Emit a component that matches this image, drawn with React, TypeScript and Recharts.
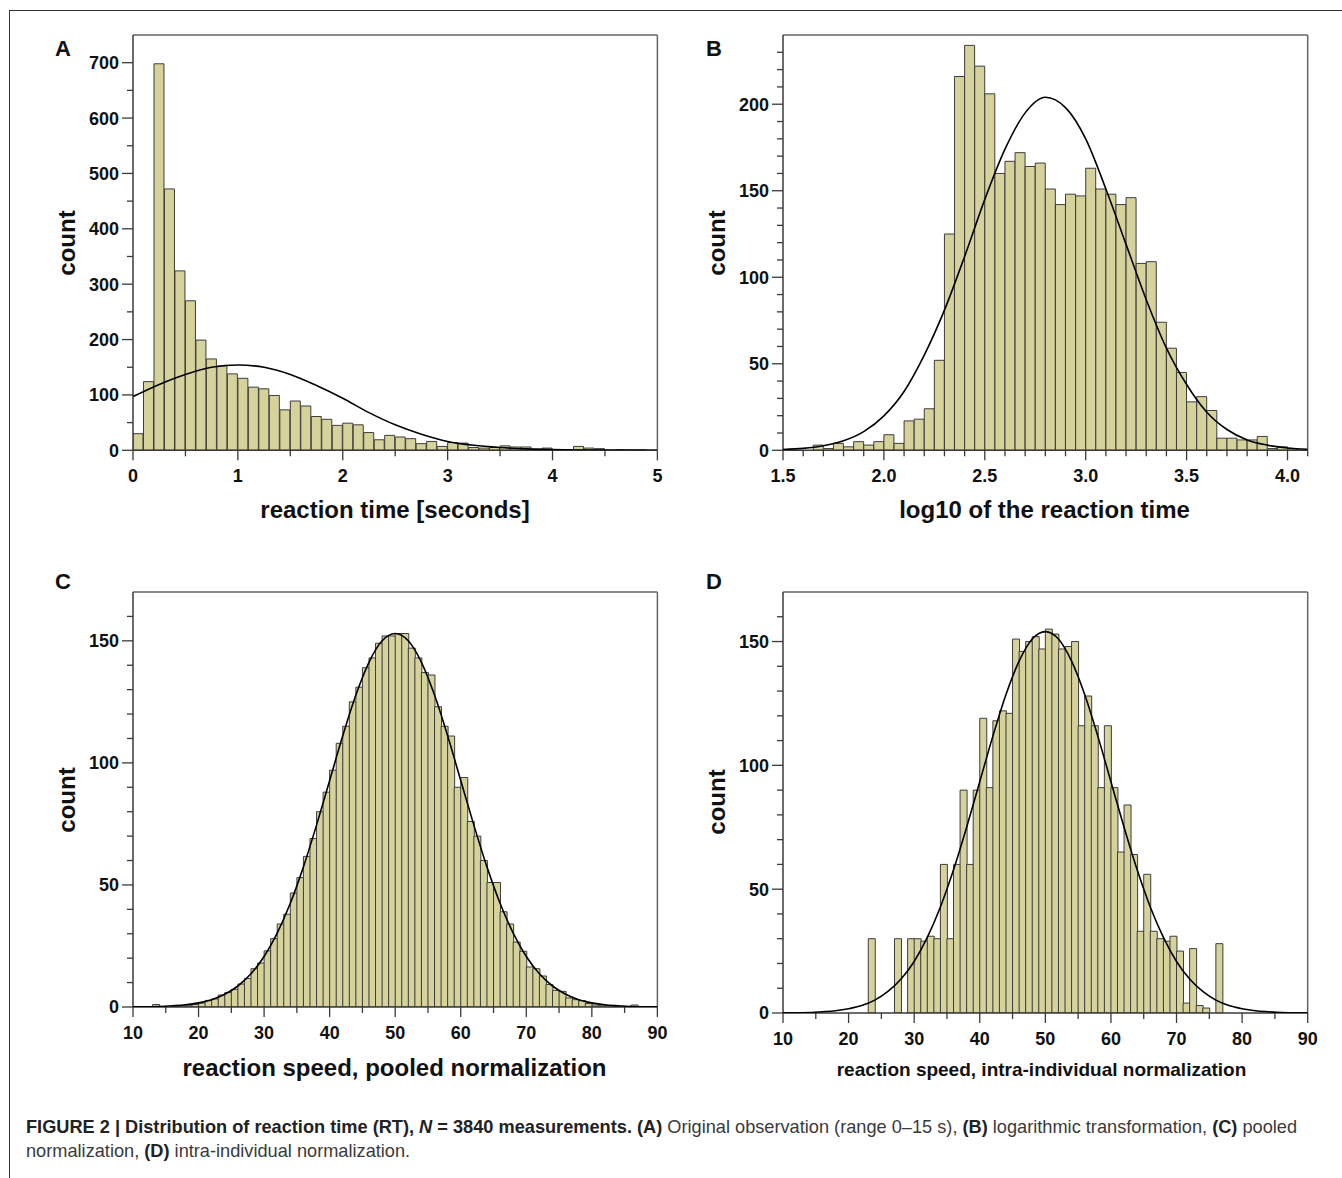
import { ComposedChart, Bar, Line, XAxis, YAxis, ReferenceLine } from 'recharts'

const FONT = '"Liberation Sans", Arial, Helvetica, sans-serif'
const FILL = '#d6d29c'
const EDGE = '#3c3c3c'
const AXIS = '#3a3a3a'
const FRAME = '#666'
const YW = 60
const XH = 45
const PAD = 6
const PAD_R = 24

// A: raw reaction time, 0.1 s bins 0..5 s
const A_BIN_START = 0
const A_BIN_W = 0.1
const A_COUNTS = [
  30, 124, 698, 472, 324, 270, 199, 165, 152, 138,
  130, 114, 111, 99, 73, 89, 80, 61, 56, 45,
  49, 46, 32, 19, 27, 24, 21, 12, 16, 7,
  14, 13, 5, 4, 5, 8, 6, 6, 2, 4,
  1, 1, 7, 4, 3, 0, 1, 1, 1, 0,
]
const A_FIT_X = [0, 0.25, 0.5, 0.75, 1, 1.25, 1.5, 1.75, 2, 2.25, 2.5, 2.75, 3, 3.25, 3.5, 3.75, 4, 4.25, 4.5, 4.75, 5]
const A_FIT_Y = [97, 119, 137, 150, 154, 150, 137, 117, 94, 68, 46, 29, 16, 9, 5, 2.5, 1.2, 0.6, 0.3, 0.1, 0]
const A_X_MAJOR = [0, 1, 2, 3, 4, 5]
const A_X_MINOR = [0.5, 1.5, 2.5, 3.5, 4.5]
const A_Y_MAJOR = [0, 100, 200, 300, 400, 500, 600, 700]
const A_Y_MINOR = [50, 150, 250, 350, 450, 550, 650]

// B: log10 of reaction time, 0.05 bins 1.5..4.1
const B_BIN_START = 1.5
const B_BIN_W = 0.05
const B_COUNTS = [
  0, 0, 0, 3, 1, 4, 2, 5, 3, 5,
  9, 4, 17, 18, 24, 52, 125, 216, 234, 222,
  206, 160, 167, 172, 164, 166, 151, 142, 148, 147,
  163, 151, 148, 142, 146, 108, 109, 74, 59, 45,
  28, 31, 23, 7, 7, 6, 6, 8, 1, 2,
  1, 0,
]
const B_FIT_X = [1.5, 1.6, 1.7, 1.8, 1.9, 2.0, 2.1, 2.2, 2.3, 2.4, 2.5, 2.6, 2.7, 2.8, 2.9, 3.0, 3.1, 3.2, 3.3, 3.4, 3.5, 3.6, 3.7, 3.8, 3.9, 4.0, 4.1]
const B_FIT_Y = [0.5, 1.1, 2.6, 5.5, 10.8, 19.9, 34, 55, 81, 112, 145, 174, 195, 204, 198, 180, 151, 119, 87, 59, 38, 22, 12, 6, 3, 1.3, 0.6]
const B_X_MAJOR = [1.5, 2.0, 2.5, 3.0, 3.5, 4.0]
const B_Y_MAJOR = [0, 50, 100, 150, 200]

// C: pooled normalization, unit bins 10..90
const C_BIN_START = 10
const C_BIN_W = 1
const C_COUNTS = [
  0, 0, 0, 1, 0, 0, 0.5, 0.5, 0.7, 1,
  1.6, 2.7, 3.3, 4.9, 5.9, 7.2, 9.4, 11.7, 15.7, 18,
  23, 28, 34, 38, 46.7, 53, 61.7, 69, 80, 88,
  97, 108, 115, 125, 131, 139, 143, 149, 152, 152,
  153, 153, 147, 143, 137, 136, 123, 115, 111, 90,
  94, 76, 70, 60, 51, 51, 39, 34, 26.6, 22.8,
  16.4, 15.7, 12.7, 9.2, 6.8, 6.4, 3.7, 3, 2.6, 1.4,
  0.8, 0.7, 0.5, 0.3, 0, 0, 0.8, 0, 0, 0,
]
const C_FIT_X = [10, 12, 14, 16, 18, 20, 22, 24, 26, 28, 30, 32, 34, 36, 38, 40, 42, 44, 46, 48, 50, 52, 54, 56, 58, 60, 62, 64, 66, 68, 70, 72, 74, 76, 78, 80, 82, 84, 86, 88, 90]
const C_FIT_Y = [
  0.1, 0.1, 0.2, 0.5, 0.9, 1.7, 3.0, 5.2, 8.6, 13.6, 20.7, 30.3, 42.5, 57.4, 74.5, 92.8, 111.1, 127.8, 141.2, 150,
  153,
  150, 141.2, 127.8, 111.1, 92.8, 74.5, 57.4, 42.5, 30.3, 20.7, 13.6, 8.6, 5.2, 3.0, 1.7, 0.9, 0.5, 0.2, 0.1, 0.1,
]

// D: intra-individual normalization, unit bins 10..90
const D_COUNTS = [
  0, 0, 0, 0, 0, 0, 0, 0, 0, 0,
  0, 0, 0, 30, 0, 0, 0, 30, 0, 30,
  30, 29, 31, 30, 60, 30, 60, 90, 60, 90,
  119, 91, 118, 122, 121, 151, 146, 150, 152, 147,
  155, 153, 147, 148, 150, 116, 128, 116, 91, 116,
  91, 65, 84, 64, 33, 56, 33, 30, 29, 31,
  25, 4, 26, 3, 2, 0, 28, 0, 0, 0,
  0, 0, 0, 0, 0, 0, 0, 0, 0, 0,
]
const D_FIT_Y = [
  0.1, 0.1, 0.2, 0.5, 0.9, 1.7, 3.0, 5.2, 8.7, 13.7, 20.8, 30.5, 42.8, 57.8, 75, 93.4, 111.8, 128.6, 142.1, 151,
  154,
  151, 142.1, 128.6, 111.8, 93.4, 75, 57.8, 42.8, 30.5, 20.8, 13.7, 8.7, 5.2, 3.0, 1.7, 0.9, 0.5, 0.2, 0.1, 0.1,
]
const NORM_X_MAJOR = [10, 20, 30, 40, 50, 60, 70, 80, 90]
const NORM_X_MINOR = [15, 25, 35, 45, 55, 65, 75, 85]
const NORM_Y_MAJOR = [0, 50, 100, 150]

const steps = (from: number, to: number, step: number) => {
  const out: number[] = []
  for (let v = from; v <= to + 1e-9; v += step) out.push(Math.round(v * 1000) / 1000)
  return out
}
const near = (list: number[], v: number) => list.some(m => Math.abs(m - v) < 1e-6)
const withMinor = (major: number[], minor: number[]) => [...major, ...minor.filter(v => !near(major, v))].sort((a, b) => a - b)

const bins = (counts: number[], start: number, width: number) =>
  counts.map((c, i) => ({ x: Math.round((start + (i + 0.5) * width) * 1000) / 1000, count: c }))
const curve = (xs: number[], ys: number[]) => xs.map((x, i) => ({ x, y: ys[i] }))

function XTick(props: any) {
  const { x, y, payload, majors, fmt } = props
  const major = near(majors, payload.value)
  return (
    <g>
      <line x1={x} y1={y} x2={x} y2={y + (major ? 10 : 6)} stroke={AXIS} strokeWidth={1.3} />
      {major && (
        <text x={x} y={y + 32} textAnchor="middle" fontSize={18} fontWeight="bold" fontFamily={FONT} fill="#111">
          {fmt(payload.value)}
        </text>
      )}
    </g>
  )
}

function YTick(props: any) {
  const { x, y, payload, majors } = props
  const major = near(majors, payload.value)
  return (
    <g>
      <line x1={x - (major ? 11 : 6)} y1={y} x2={x} y2={y} stroke={AXIS} strokeWidth={1.3} />
      {major && (
        <text x={x - 14} y={y + 6.5} textAnchor="end" fontSize={18} fontWeight="bold" fontFamily={FONT} fill="#111">
          {payload.value}
        </text>
      )}
    </g>
  )
}

type PanelProps = {
  left: number; top: number; plotW: number; plotH: number
  data: { x: number; count: number }[]
  fit: { x: number; y: number }[]
  xDomain: [number, number]; yDomain: [number, number]
  xMajor: number[]; xTicks: number[]; yMajor: number[]; yTicks: number[]
  fmt: (v: number) => string
}

function Panel(p: PanelProps) {
  const w = YW + p.plotW + PAD_R
  const h = PAD + p.plotH + XH
  const pos = { position: 'absolute' as const, left: p.left - YW, top: p.top - PAD }
  return (
    <>
      <div style={pos}>
        <ComposedChart width={w} height={h} data={p.data} margin={{ top: PAD, right: PAD_R, left: 0, bottom: 0 }} barCategoryGap={0} barGap={0}>
          <XAxis
            dataKey="x" type="number" domain={p.xDomain} ticks={p.xTicks} interval={0}
            height={XH} tickSize={0} tickMargin={0} tickLine={false} allowDataOverflow
            axisLine={{ stroke: AXIS, strokeWidth: 1.5 }}
            tick={(t: any) => <XTick {...t} majors={p.xMajor} fmt={p.fmt} />}
          />
          <YAxis
            type="number" domain={p.yDomain} ticks={p.yTicks} interval={0}
            width={YW} tickSize={0} tickMargin={0} tickLine={false} allowDataOverflow
            axisLine={{ stroke: AXIS, strokeWidth: 1.5 }}
            tick={(t: any) => <YTick {...t} majors={p.yMajor} />}
          />
          <Bar dataKey="count" fill={FILL} stroke={EDGE} strokeWidth={1} isAnimationActive={false} />
          <ReferenceLine y={p.yDomain[1]} stroke={FRAME} strokeWidth={1.5} />
          <ReferenceLine x={p.xDomain[1]} stroke={FRAME} strokeWidth={1.5} />
        </ComposedChart>
      </div>
      <div style={pos}>
        <ComposedChart width={w} height={h} data={p.fit} margin={{ top: PAD, right: PAD_R, left: YW, bottom: XH }}>
          <XAxis dataKey="x" type="number" domain={p.xDomain} hide allowDataOverflow />
          <YAxis type="number" domain={p.yDomain} hide allowDataOverflow />
          <Line dataKey="y" type="monotone" stroke="#000" strokeWidth={1.6} dot={false} isAnimationActive={false} />
        </ComposedChart>
      </div>
    </>
  )
}

const TITLE = { fontFamily: FONT, fontWeight: 'bold' as const, fill: '#111' }
const BOLD = { color: '#222' }

export default function App() {
  const int = (v: number) => String(v)
  const one = (v: number) => v.toFixed(1)
  return (
    <div style={{ position: 'absolute', left: 0, top: 0, width: 1342, height: 1178, background: '#fff', overflow: 'hidden' }}>
      <div style={{ position: 'absolute', left: 9, top: 10, width: 1340, height: 1170, borderTop: '1px solid #333', borderLeft: '1px solid #333' }} />

      <Panel
        left={133.3} top={34.7} plotW={524.4} plotH={415.3}
        data={bins(A_COUNTS, A_BIN_START, A_BIN_W)} fit={curve(A_FIT_X, A_FIT_Y)}
        xDomain={[0, 5]} yDomain={[0, 750]}
        xMajor={A_X_MAJOR} xTicks={withMinor(A_X_MAJOR, A_X_MINOR)}
        yMajor={A_Y_MAJOR} yTicks={withMinor(A_Y_MAJOR, A_Y_MINOR)}
        fmt={int}
      />
      <Panel
        left={783.3} top={34.7} plotW={524.7} plotH={415.3}
        data={bins(B_COUNTS, B_BIN_START, B_BIN_W)} fit={curve(B_FIT_X, B_FIT_Y)}
        xDomain={[1.5, 4.1]} yDomain={[0, 240]}
        xMajor={B_X_MAJOR} xTicks={withMinor(B_X_MAJOR, steps(1.6, 4.1, 0.1))}
        yMajor={B_Y_MAJOR} yTicks={withMinor(B_Y_MAJOR, steps(10, 230, 10))}
        fmt={one}
      />
      <Panel
        left={133.3} top={591.7} plotW={524.4} plotH={415}
        data={bins(C_COUNTS, C_BIN_START, C_BIN_W)} fit={curve(C_FIT_X, C_FIT_Y)}
        xDomain={[10, 90]} yDomain={[0, 170]}
        xMajor={NORM_X_MAJOR} xTicks={withMinor(NORM_X_MAJOR, NORM_X_MINOR)}
        yMajor={NORM_Y_MAJOR} yTicks={withMinor(NORM_Y_MAJOR, steps(10, 160, 10))}
        fmt={int}
      />
      <Panel
        left={783.3} top={592.3} plotW={524.7} plotH={421}
        data={bins(D_COUNTS, C_BIN_START, C_BIN_W)} fit={curve(C_FIT_X, D_FIT_Y)}
        xDomain={[10, 90]} yDomain={[0, 170]}
        xMajor={NORM_X_MAJOR} xTicks={withMinor(NORM_X_MAJOR, NORM_X_MINOR)}
        yMajor={NORM_Y_MAJOR} yTicks={withMinor(NORM_Y_MAJOR, steps(10, 160, 10))}
        fmt={int}
      />

      <svg width={1342} height={1178} style={{ position: 'absolute', left: 0, top: 0, pointerEvents: 'none' }}>
        <text x={63} y={56} textAnchor="middle" fontSize={22} {...TITLE}>A</text>
        <text x={714} y={56} textAnchor="middle" fontSize={22} {...TITLE}>B</text>
        <text x={63} y={589} textAnchor="middle" fontSize={22} {...TITLE}>C</text>
        <text x={714} y={589} textAnchor="middle" fontSize={22} {...TITLE}>D</text>

        <text transform="translate(75,243) rotate(-90)" textAnchor="middle" fontSize={24} {...TITLE}>count</text>
        <text transform="translate(725,243) rotate(-90)" textAnchor="middle" fontSize={24} {...TITLE}>count</text>
        <text transform="translate(75,800) rotate(-90)" textAnchor="middle" fontSize={24} {...TITLE}>count</text>
        <text transform="translate(725,802) rotate(-90)" textAnchor="middle" fontSize={24} {...TITLE}>count</text>

        <text x={395} y={518} textAnchor="middle" fontSize={24} {...TITLE}>reaction time [seconds]</text>
        <text x={1044.5} y={518} textAnchor="middle" fontSize={24} {...TITLE}>log10 of the reaction time</text>
        <text x={394.5} y={1076} textAnchor="middle" fontSize={24} {...TITLE}>reaction speed, pooled normalization</text>
        <text x={1041.5} y={1076} textAnchor="middle" fontSize={19} {...TITLE}>reaction speed, intra-individual normalization</text>
      </svg>

      <div style={{ position: 'absolute', left: 26, top: 1115.3, fontFamily: FONT, fontSize: 18.2, lineHeight: '24px', color: '#3a3a3a', whiteSpace: 'nowrap' }}>
        <b style={BOLD}>FIGURE 2 | Distribution of reaction time (RT), <i>N</i> = 3840 measurements.</b>{' '}
        <b style={BOLD}>(A)</b> Original observation (range 0–15 s), <b style={BOLD}>(B)</b> logarithmic transformation,{' '}
        <b style={BOLD}>(C)</b> pooled
        <br />
        normalization, <b style={BOLD}>(D)</b> intra-individual normalization.
      </div>
    </div>
  )
}
